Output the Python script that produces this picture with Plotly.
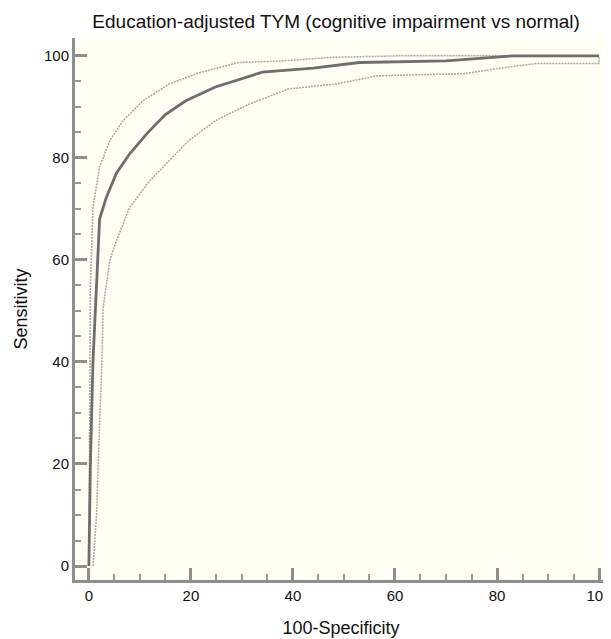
import plotly.graph_objects as go

# ROC curve (100-Specificity vs Sensitivity)
roc_x = [0, 0.3, 0.8, 1.5, 2.1, 3.4, 5.4, 8.0, 11.5, 15.0, 19.0, 24.8, 34.0, 44.0, 53.0, 70.0, 83.0, 100.0]
roc_y = [0, 20, 40, 57, 68, 72.2, 77, 80.8, 84.9, 88.5, 91.2, 93.9, 96.8, 97.6, 98.7, 99.0, 100, 100]

# upper 95% CI
upper_x = [0, 0.1, 0.3, 0.8, 2.1, 4.1, 6.7, 10.6, 15.8, 21.6, 29.4, 37.8, 47.5, 60.5, 100.0]
upper_y = [0, 30, 55, 70.3, 78.2, 83.4, 87.3, 91.2, 94.5, 96.7, 98.7, 99.0, 99.7, 100, 100]

# lower 95% CI
lower_x = [0.8, 1.5, 2.0, 2.5, 2.8, 4.1, 5.4, 8.0, 11.9, 15.8, 19.6, 24.8, 31.3, 39.1, 48.5, 56.6, 73.5, 80.0, 87.7, 100.0, 100.0]
lower_y = [0, 10, 25, 38.4, 50.7, 59.9, 63.8, 70.3, 75.5, 79.5, 83.4, 87.3, 90.5, 93.5, 94.5, 96.1, 96.5, 97.5, 98.5, 98.5, 100]

tick_vals = [0, 20, 40, 60, 80, 100]
tick_text = ["0", "20", "40", "60", "80", "100"]

FONT = "Liberation Sans, Arial, Helvetica, sans-serif"

fig = go.Figure()
fig.add_trace(go.Scatter(x=upper_x, y=upper_y, mode="lines",
                         line=dict(color="#a8a8a8", width=1.5, dash="2px,1px"),
                         showlegend=False, hoverinfo="skip"))
fig.add_trace(go.Scatter(x=lower_x, y=lower_y, mode="lines",
                         line=dict(color="#a8a8a8", width=1.5, dash="2px,1px"),
                         showlegend=False, hoverinfo="skip"))
fig.add_trace(go.Scatter(x=roc_x, y=roc_y, mode="lines",
                         line=dict(color="#6e6e6e", width=2.8),
                         showlegend=False))

axis_common = dict(
    showgrid=False, zeroline=False,
    showline=True, linecolor="#8e8e8e", linewidth=3,
    ticks="inside", ticklen=12, tickwidth=2.5, tickcolor="#8e8e8e",
    tickvals=tick_vals, ticktext=tick_text,
    tickfont=dict(family=FONT, size=15, color="#111"),
    minor=dict(ticks="inside", ticklen=6, tickwidth=1.5, tickcolor="#9a9a9a", dtick=5, tick0=0),
)

fig.update_layout(
    width=611, height=639,
    margin=dict(l=67, r=8, t=30, b=67),
    paper_bgcolor="white",
    plot_bgcolor="#fffef2",
    font=dict(family=FONT, size=15, color="#111"),
    title=dict(text="Education-adjusted TYM (cognitive impairment vs normal)",
               x=0.537, xref="container", y=0.979, yref="container",
               xanchor="center", yanchor="middle",
               font=dict(family=FONT, size=19, color="#111")),
    xaxis=dict(range=[-2.72, 101.56], ticklabeloverflow="allow",
               title=dict(text="100-Specificity", font=dict(family=FONT, size=18, color="#111"), standoff=19),
               **axis_common),
    yaxis=dict(range=[-2.74, 103.5],
               title=dict(text="Sensitivity", font=dict(family=FONT, size=18, color="#111"), standoff=12),
               **axis_common),
)

fig.write_html("out.html")
